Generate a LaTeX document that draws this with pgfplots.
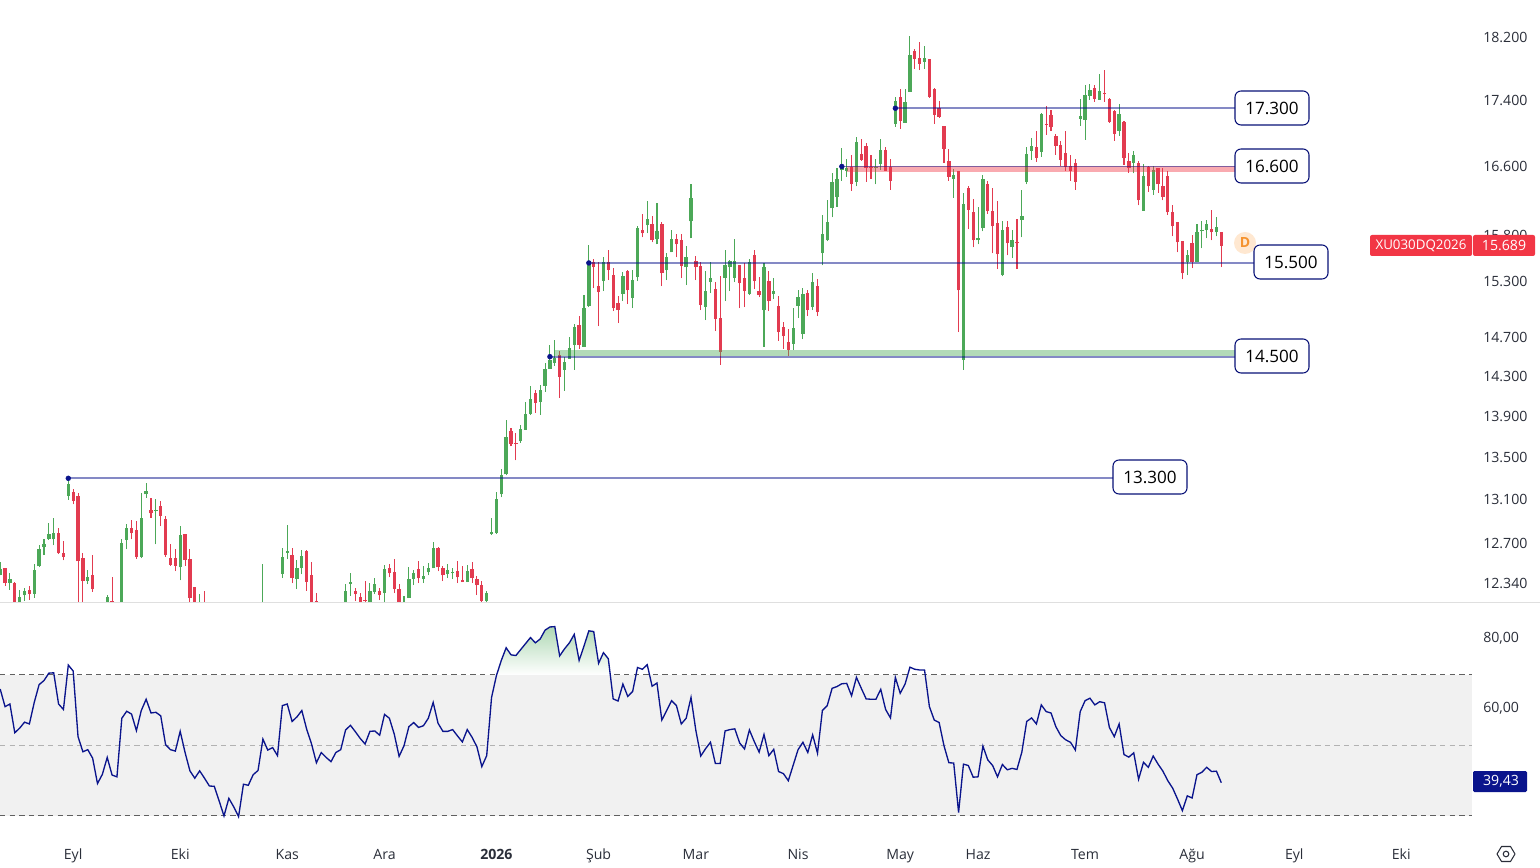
\documentclass[border=0pt]{standalone}
\usepackage{pgfplots}
\usepackage{pgfplotstable}
\usepackage{fontspec}
\setmainfont{Open Sans}
\pgfplotsset{compat=1.18}
\definecolor{upc}{HTML}{4CA858}
\definecolor{dnc}{HTML}{E23B50}
\definecolor{navy}{HTML}{0A148C}
\definecolor{txt}{HTML}{2A2E39}
\definecolor{tagred}{HTML}{F23645}
\pgfplotstableread{
x o h l c
-14 12420 12532 12414 12466
-12 12344 12437 12286 12379
-10 12080 12286 12000 12222
-9 12240 12298 12190 12275
-7 12251 12511 12217 12457
-6 12493 12681 12487 12645
-5 12666 12735 12592 12690
-4 12735 12881 12729 12780
-3 12735 12927 12681 12789
0 13138 13280 13100 13242
4 12362 12457 12335 12400
8 12150 12240 12100 12222
11 12100 12735 12050 12705
12 12729 12878 12645 12836
15 12574 13157 12565 12926
16 13148 13258 13119 13176
18 12994 13102 12690 13001
23 12484 12854 12370 12771
27 12120 12248 12080 12160
40 12000 12511 11950 12100
44 12425 12654 12390 12580
45 12613 12863 12556 12628
47 12379 12547 12292 12475
48 12475 12636 12422 12583
57 12100 12335 12050 12275
58 12335 12431 12234 12353
62 12120 12344 12080 12275
63 12269 12388 12248 12335
65 12257 12502 12150 12466
69 12120 12231 12080 12170
70 12214 12490 12214 12379
71 12379 12457 12327 12431
73 12379 12493 12344 12405
74 12440 12520 12414 12475
75 12475 12708 12475 12654
78 12422 12511 12388 12457
79 12434 12475 12379 12440
82 12353 12502 12353 12449
86 12188 12275 12150 12257
87 12782 12928 12773 12800
88 12791 13168 12782 13103
89 13149 13384 13122 13328
90 13337 13866 13328 13700
93 13652 13817 13642 13778
94 13768 14043 13768 13925
95 13925 14203 13915 14073
97 14043 14213 13915 14163
98 14203 14436 14143 14375
99 14375 14622 14375 14467
100 14436 14673 14406 14488
102 14365 14498 14153 14447
103 14477 14705 14477 14591
104 14622 14841 14365 14810
106 14601 15149 14601 15009
107 15031 15694 15020 15474
110 15299 15562 15192 15507
114 15160 15397 15084 15354
116 15116 15419 15009 15310
117 15343 15907 15299 15885
119 15918 16192 15828 15997
121 15761 16169 15706 15851
123 15419 15606 15310 15562
124 15617 15862 15617 15761
127 15452 15683 15256 15562
128 15964 16388 15772 16238
131 15020 15408 14883 15192
132 15288 15507 15170 15332
135 15332 15639 15084 15474
136 15452 15529 15192 15518
137 15332 15761 15288 15518
140 15160 15540 15149 15507
143 14988 15496 14601 15452
145 15160 15332 15106 15192
149 14632 15009 14570 14799
150 15031 15202 14904 15127
151 14736 15224 14684 15160
153 15020 15386 14988 15288
155 15606 16043 15474 15817
156 15750 16203 15739 15952
157 16111 16528 16009 16422
158 16249 16586 16134 16457
159 16563 16823 16434 16609
160 16551 16692 16481 16586
162 16422 16954 16365 16894
166 16586 16692 16388 16598
167 16633 16930 16563 16799
170 17111 17442 17075 17392
172 17123 17541 17123 17380
173 17504 18213 17504 17969
176 17880 18084 17791 17930
182 16457 16575 16238 16504
184 14467 16295 14365 16157
187 15750 16134 15706 15772
188 15885 16504 15851 16457
192 15365 15964 15354 15862
194 15672 15862 15551 15750
196 15986 16330 15783 16031
197 16422 16834 16388 16751
198 16787 16942 16680 16846
200 16775 17245 16716 17232
208 17172 17417 17087 17208
209 17159 17591 16918 17467
210 17454 17603 17405 17529
212 17405 17728 17405 17516
216 17026 17355 16966 17232
219 16645 16787 16516 16739
221 16088 16633 16088 16492
223 16330 16609 16272 16563
230 15507 15639 15365 15584
232 15507 15930 15507 15840
233 15851 15964 15661 15862
234 15862 15986 15772 15930
236 15840 16009 15795 15896
}\uptab
\pgfplotstableread{
x o h l c
-13 12475 12475 12321 12344
-11 12350 12359 12000 12100
-8 12283 12321 12199 12248
-2 12796 12842 12601 12610
-1 12616 12717 12547 12577
1 13170 13195 13055 13091
2 13129 13157 12118 12538
3 12565 12610 12100 12362
5 12414 12592 12269 12292
9 12193 12402 12150 12188
13 12836 12908 12735 12789
14 12817 12902 12562 12580
17 13001 13119 12933 12973
19 13037 13091 12856 12948
20 12917 12948 12577 12592
21 12565 12690 12496 12508
22 12565 12645 12451 12496
24 12780 12780 12496 12550
25 12556 12645 12176 12217
26 12309 12315 12080 12120
28 12160 12275 12100 12130
46 12592 12654 12344 12390
49 12628 12636 12277 12356
50 12419 12529 12000 12100
51 12193 12257 12150 12180
59 12275 12301 12188 12248
60 12222 12257 12080 12120
61 12196 12362 12170 12186
64 12275 12301 12196 12240
66 12475 12511 12396 12431
67 12440 12556 12257 12292
68 12292 12335 12080 12120
72 12466 12538 12344 12388
76 12654 12663 12449 12484
77 12475 12493 12362 12414
80 12449 12538 12344 12396
81 12370 12493 12353 12353
83 12466 12529 12344 12388
84 12379 12405 12240 12327
85 12327 12362 12150 12188
91 13758 13788 13604 13632
92 13642 13739 13470 13632
96 14133 14163 13935 14033
101 14518 14560 14083 14294
105 14830 14925 14580 14622
108 15507 15540 15224 15452
109 15245 15507 14820 15181
111 15507 15639 15310 15419
112 15365 15441 14977 15009
113 15063 15138 14851 14988
115 15408 15419 15052 15202
118 15862 16054 15783 15828
120 15930 16031 15728 15750
122 15930 15952 15245 15386
125 15761 15817 15562 15706
126 15750 15817 15332 15463
129 15518 15573 15310 15452
130 15463 15507 14988 15041
133 15213 15288 14767 14893
134 14904 15354 14416 14549
138 15474 15474 15009 15277
139 15332 15496 15020 15192
141 15584 15639 15213 15299
142 15192 15343 15127 15149
144 15299 15408 14977 15084
146 15031 15138 14663 14757
147 14810 14862 14580 14715
148 14653 14788 14508 14570
152 15170 15202 14925 14988
154 15245 15321 14925 14967
161 16598 16739 16318 16388
163 16751 16930 16668 16680
164 16846 16882 16422 16586
165 16598 16739 16457 16586
168 16799 16834 16551 16551
169 16598 16692 16330 16434
171 17442 17541 17050 17147
174 18020 18045 17791 17918
175 17930 18135 17778 17854
177 17918 17918 17430 17442
178 17541 17553 17111 17220
179 17306 17392 17184 17196
180 17087 17087 16645 16811
181 16668 16811 16434 16481
183 16551 16551 14757 15202
185 16353 16376 15874 16100
186 16066 16215 15672 15750
189 16399 16434 16054 16077
190 16088 16353 15606 15907
191 15941 16192 15430 15595
193 15896 15964 15584 15717
195 15728 15997 15430 15717
199 16834 17026 16656 16704
201 17111 17330 16978 17099
202 17220 17281 17026 17075
203 16966 16990 16739 16846
204 16858 16906 16609 16680
205 16763 17026 16551 16598
206 16609 16739 16434 16551
207 16645 16692 16330 16422
211 17553 17591 17380 17417
213 17491 17778 17380 17479
214 17417 17430 17123 17135
215 17269 17281 16906 16990
217 17135 17147 16621 16704
218 16668 16763 16528 16586
220 16645 16668 16146 16203
222 16598 16609 16307 16365
224 16586 16586 16295 16388
225 16376 16586 16203 16249
226 16492 16551 16043 16066
227 16066 16146 15795 15907
228 15952 15952 15617 15728
229 15739 15739 15321 15386
231 15717 15806 15441 15507
235 15874 16100 15750 15840
237 15840 15840 15452 15689
}\dntab
\pgfplotstableread{
x r
-14 66.0
-13 61.0
-12 61.75
-11 53.6
-10 54.9
-9 56.6
-8 56.1
-7 62.2
-6 67.25
-5 68.4
-4 70.5
-3 70.6
-2 61.75
-1 60.2
0 72.8
1 71.1
2 52.5
3 48.2
4 48.8
5 46.4
6 39.2
7 41.8
8 46.6
9 41.6
10 41.1
11 57.7
12 59.7
13 58.9
14 54.2
15 59.9
16 63.1
17 59.2
18 59.4
19 58.4
20 50.2
21 48.8
22 48.4
23 54.0
24 48.0
25 42.8
26 40.7
27 42.8
28 40.7
29 38.5
30 38.4
31 34.3
32 30.0
33 35.0
34 32.6
35 29.8
36 39.0
37 38.7
38 41.7
39 42.9
40 51.8
41 48.7
42 49.4
43 47.1
44 61.3
45 61.75
46 56.8
47 58.1
48 59.9
49 54.6
50 50.4
51 45.1
52 48.0
53 46.6
54 45.4
55 48.0
56 48.8
57 54.4
58 55.7
59 53.9
60 52.0
61 50.4
62 54.0
63 54.1
64 52.9
65 58.8
66 57.7
67 53.2
68 46.9
69 49.9
70 55.3
71 56.5
72 55.1
73 55.6
74 57.7
75 62.2
76 56.3
77 54.0
78 54.0
79 54.5
80 52.7
81 51.0
82 54.5
83 52.3
84 49.6
85 44.0
86 47.1
87 63.6
88 69.8
89 74.1
90 77.7
91 75.7
92 75.5
93 77.2
94 78.9
95 80.6
96 79.1
97 80.2
98 82.7
99 83.6
100 83.7
101 75.4
102 77.4
103 79.1
104 81.5
105 74.1
106 78.2
107 82.5
108 82.3
109 73.3
110 76.3
111 74.6
112 63.2
113 62.6
114 67.4
115 63.9
116 65.3
117 72.1
118 71.6
119 72.9
120 66.8
121 67.7
122 57.2
123 59.9
124 62.7
125 61.3
126 56.1
127 57.7
128 63.6
129 54.2
130 47.0
131 49.1
132 50.9
133 44.9
134 44.9
135 54.1
136 54.5
137 54.7
138 50.7
139 49.0
140 54.4
141 51.1
142 48.1
143 53.1
144 47.1
145 48.9
146 42.6
147 42.0
148 40.0
149 44.4
150 48.8
151 50.9
152 48.0
153 53.0
154 47.8
155 59.9
156 61.3
157 66.2
158 66.7
159 67.5
160 67.6
161 64.1
162 69.3
163 66.2
164 63.2
165 63.1
166 63.1
167 65.9
168 60.2
169 57.8
170 69.3
171 64.8
172 67.4
173 72.2
174 71.6
175 71.4
176 71.4
177 61.0
178 57.2
179 56.5
180 49.9
181 45.1
182 45.0
183 31.0
184 44.7
185 44.3
186 41.0
187 41.1
188 49.8
189 45.9
190 44.3
191 41.1
192 44.6
193 43.1
194 43.5
195 43.2
196 48.1
197 56.8
198 57.8
199 56.1
200 61.5
201 59.6
202 59.2
203 55.3
204 52.8
205 51.6
206 50.9
207 48.7
208 59.6
209 62.7
210 63.4
211 61.5
212 62.4
213 62.1
214 55.1
215 52.5
216 56.1
217 47.4
218 46.7
219 47.9
220 40.4
221 45.2
222 43.8
223 47.0
224 44.7
225 42.7
226 40.0
227 37.9
228 34.8
229 31.5
230 35.7
231 35.1
232 41.7
233 42.4
234 43.8
235 42.6
236 42.7
237 39.43
}\rsitab
% builds a list of vertical segments, one per table row, from two columns
\newcommand\buildsegs[4]{%
  \gdef#4{}%
  \pgfplotstablegetrowsof{#1}%
  \pgfmathtruncatemacro\lastrow{\pgfplotsretval-1}%
  \foreach \rr in {0,...,\lastrow}{%
    \pgfplotstablegetelem{\rr}{x}\of{#1}\let\vx\pgfplotsretval
    \pgfplotstablegetelem{\rr}{#2}\of{#1}\let\va\pgfplotsretval
    \pgfplotstablegetelem{\rr}{#3}\of{#1}\let\vb\pgfplotsretval
    \xdef#4{#4 (\vx,\va)(\vx,\vb)(\vx,nan)}%
  }%
}
\buildsegs{\uptab}{l}{h}{\upwick}
\buildsegs{\uptab}{o}{c}{\upbody}
\buildsegs{\dntab}{l}{h}{\dnwick}
\buildsegs{\dntab}{c}{o}{\dnbody}
\def\nanword{nan}
\begin{document}
\begin{tikzpicture}
\useasboundingbox (0,0) rectangle (1155pt,650.25pt);
\fill[white] (0,0) rectangle (1155pt,650.25pt);
\begin{axis}[
  at={(0pt,198pt)}, anchor=south west, scale only axis,
  width=1104pt, height=451.5pt,
  y coord trafo/.code={\def\trafoarg{#1}\ifx\trafoarg\nanword\def\pgfmathresult{nan}\else\begingroup\pgfkeys{/pgf/fpu=true,/pgf/fpu/output format=sci}\pgfmathparse{ln(#1)}\global\let\logres\pgfmathresult\endgroup\let\pgfmathresult\logres\fi},
  xmin=-14.04, xmax=288.53, ymin=12172, ymax=18672,
  axis line style={draw=none}, tick style={draw=none},
  xtick=\empty, clip=true, unbounded coords=jump,
  ytick={12340,12700,13100,13500,13900,14300,14700,15300,15800,16600,17400,18200},
  yticklabels={12.340,12.700,13.100,13.500,13.900,14.300,14.700,15.300,15.800,16.600,17.400,18.200},
  yticklabel pos=right,
  yticklabel style={font=\fontsize{10.6pt}{12pt}\selectfont, text=txt, inner sep=0pt, anchor=west, xshift=8.25pt},
]
\edef\tmpa{\noexpand\addplot[upc, line width=.8pt, forget plot] coordinates {\upwick};}\tmpa
\edef\tmpa{\noexpand\addplot[dnc, line width=.8pt, forget plot] coordinates {\dnwick};}\tmpa
\edef\tmpa{\noexpand\addplot[upc, line width=2.5pt, forget plot] coordinates {\upbody};}\tmpa
\edef\tmpa{\noexpand\addplot[dnc, line width=2.5pt, forget plot] coordinates {\dnbody};}\tmpa
% zones
\addplot[fill=tagred, fill opacity=.42, draw=none, forget plot] coordinates {(160,16600)(240.8,16600)(240.8,16530)(160,16530)} -- cycle;
\addplot[fill=upc, fill opacity=.42, draw=none, forget plot] coordinates {(100,14570)(240.8,14570)(240.8,14505)(100,14505)} -- cycle;
% levels
\addplot[navy, opacity=.5, line width=1.4pt, forget plot] coordinates {(0,13300)(214.7,13300)};
\addplot[navy, opacity=.5, line width=1.4pt, forget plot] coordinates {(99,14500)(240.8,14500)};
\addplot[navy, opacity=.5, line width=1.4pt, forget plot] coordinates {(107,15500)(243.7,15500)};
\addplot[navy, opacity=.5, line width=1.4pt, forget plot] coordinates {(159,16600)(240.8,16600)};
\addplot[navy, opacity=.5, line width=1.4pt, forget plot] coordinates {(170,17300)(240.8,17300)};
\addplot[only marks, mark=*, mark size=1.8pt, navy, forget plot] coordinates {(0,13300)(99,14500)(107,15500)(159,16600)(170,17300)};
\end{axis}
\draw[draw=gray!25, line width=.75pt] (0pt,198pt) -- (1155pt,198pt);
\begin{axis}[
  at={(0pt,19.5pt)}, anchor=south west, scale only axis,
  width=1104pt, height=178.5pt,
  xmin=-14.04, xmax=288.53, ymin=22.9, ymax=90.4,
  axis line style={draw=none}, tick style={draw=none},
  xtick={1,23,45,65,88,109,129,150,171,187,209,231,252,274},
  xticklabels={Eyl,Eki,Kas,Ara,\textbf{2026},Şub,Mar,Nis,May,Haz,Tem,Ağu,Eyl,Eki},
  xticklabel style={font=\fontsize{10.6pt}{12pt}\selectfont, text=txt, anchor=base, inner sep=0pt, yshift=-13.5pt},
  ytick={60,80}, yticklabels={60{,}00,80{,}00},
  yticklabel pos=right,
  yticklabel style={font=\fontsize{10.6pt}{12pt}\selectfont, text=txt, inner sep=0pt, anchor=west, xshift=8.25pt, yshift=1.2pt},
]
\addplot[fill=black!5.5, draw=none, forget plot] coordinates {(-14.04,30)(288.53,30)(288.53,70)(-14.04,70)} -- cycle;
\addplot[gray!75!black, line width=.75pt, dash pattern=on 4pt off 3.2pt, forget plot] coordinates {(-14.04,70)(288.53,70)};
\addplot[gray!60, line width=.75pt, dash pattern=on 4pt off 3.2pt, forget plot] coordinates {(-14.04,50)(288.53,50)};
\addplot[gray!75!black, line width=.75pt, dash pattern=on 4pt off 3.2pt, forget plot] coordinates {(-14.04,30)(288.53,30)};
\addplot[draw=none, top color=upc!45!white, bottom color=white, forget plot] coordinates {
(88.05,70)(89,74.1)(90,77.7)(91,75.7)(92,75.5)(93,77.2)(94,78.9)(95,80.6)(96,79.1)(97,80.2)(98,82.7)(99,83.6)(100,83.7)(101,75.4)(102,77.4)(103,79.1)(104,81.5)(105,74.1)(106,78.2)(107,82.5)(108,82.3)(109,73.3)(110,76.3)(111,74.6)(111.4,70)} -- cycle;
\addplot[color=navy, line width=1pt, forget plot] table[x=x, y=r] {\rsitab};
\end{axis}
% level labels (page coordinates, in units of .75pt per reference pixel)
\begin{scope}[x=.75pt,y=.75pt]
\tikzset{lvl/.style={draw=navy!85!black, fill=white, line width=.8pt, rounded corners=4.5pt, minimum width=55.5pt, minimum height=25.5pt, inner sep=0pt, text=black, font=\fontsize{12.8pt}{15pt}\selectfont}}
\fill[orange!18] (1245,624) circle (11);
\node[text={rgb,255:red,245;green,146;blue,46}, font=\fontsize{10.5pt}{12pt}\selectfont\bfseries] at (1245,624) {D};
\node[lvl] at (1272,759) {17.300};
\node[lvl] at (1272,701) {16.600};
\node[lvl] at (1291,605) {15.500};
\node[lvl] at (1272,511) {14.500};
\node[lvl] at (1150,390) {13.300};
% price tags
\fill[tagred, rounded corners=1.5pt] (1370,611) rectangle (1472,632);
\fill[tagred, rounded corners=1.5pt] (1473,611) rectangle (1535,632);
\node[text=white, font=\fontsize{10pt}{12pt}\selectfont] at (1421,621.5) {XU030DQ2026};
\node[text=white, font=\fontsize{10.6pt}{12pt}\selectfont] at (1504,621.5) {15.689};
\fill[navy, rounded corners=1pt] (1473,75) rectangle (1527,96);
\node[text=white, font=\fontsize{10.6pt}{12pt}\selectfont] at (1501,85.5) {39,43};
% settings icon
\draw[txt, line width=.8pt, line join=round] (1497,13) -- (1501.5,5.5) -- (1510.5,5.5) -- (1515,13) -- (1510.5,20.5) -- (1501.5,20.5) -- cycle;
\draw[txt, line width=.8pt] (1506,13) circle (2.8);
\end{scope}
\end{tikzpicture}
\end{document}
